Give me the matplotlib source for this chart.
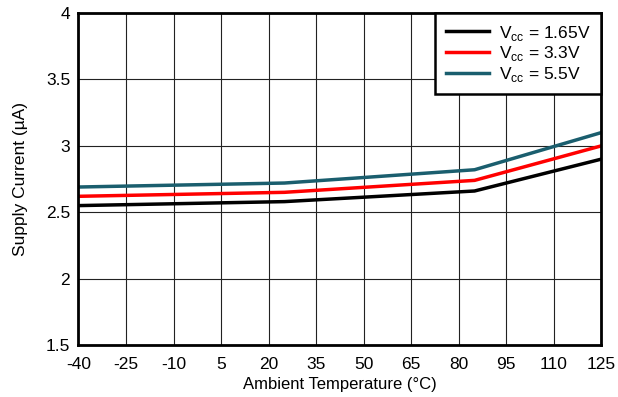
import matplotlib
matplotlib.use("Agg")
import matplotlib.pyplot as plt
import numpy as np

plt.rcParams['font.family'] = ['Liberation Sans', 'DejaVu Sans']
plt.rcParams['axes.unicode_minus'] = False

temps = [-40, 25, 85, 125]
i_165 = [2.55, 2.58, 2.66, 2.90]
i_33 = [2.62, 2.65, 2.74, 3.00]
i_55 = [2.69, 2.72, 2.82, 3.10]
labels = [r'V$_{\mathregular{cc}}$ = 1.65V', r'V$_{\mathregular{cc}}$ = 3.3V', r'V$_{\mathregular{cc}}$ = 5.5V']
colors = ['#000000', '#ff0000', '#1a5e6e']

fig = plt.figure(figsize=(6.18, 3.97), dpi=100)
ax = fig.add_axes([0.127, 0.131, 0.846, 0.836])

for y, lab, c in zip([i_165, i_33, i_55], labels, colors):
    ax.plot(temps, y, color=c, lw=2.5, label=lab)

ax.set_xlim(-40, 125)
ax.set_ylim(1.5, 4)
ax.set_xticks(np.arange(-40, 126, 15))
ax.set_yticks(np.arange(1.5, 4.01, 0.5))
ax.set_yticklabels(['1.5', '2', '2.5', '3', '3.5', '4'])
ax.grid(True, color='#222222', lw=0.8)
ax.tick_params(length=0, labelsize=12.5, pad=6)
ax.tick_params(axis='x', pad=9)
for s in ax.spines.values():
    s.set_linewidth(2)

ax.set_xlabel('Ambient Temperature (°C)', fontsize=12, labelpad=3)
ax.set_ylabel('Supply Current (µA)', fontsize=12.5, labelpad=13)

leg = ax.legend(loc='upper right', fontsize=12.5, fancybox=False, framealpha=1,
                edgecolor='black', handlelength=2.5, labelspacing=0.1,
                borderaxespad=0.0, borderpad=0.6, handletextpad=0.6)
leg.get_frame().set_linewidth(1.8)

fig.savefig('out.png', dpi=100)
